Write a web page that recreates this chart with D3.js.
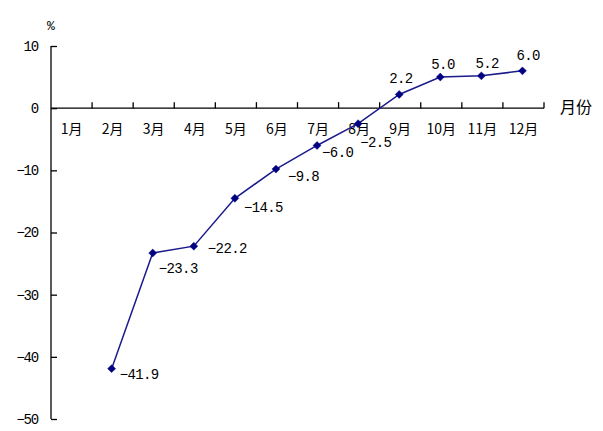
<!DOCTYPE html>
<html><head><meta charset="utf-8">
<script src="https://cdn.jsdelivr.net/npm/d3@7"></script>
<style>body{margin:0;background:#fff}svg{display:block}</style>
</head><body>
<svg id="c" width="603" height="431"></svg>
<script>
const months = ["1月","2月","3月","4月","5月","6月","7月","8月","9月","10月","11月","12月"];
const pointMonths = ["2月","3月","4月","5月","6月","7月","8月","9月","10月","11月","12月"];
const values = [-41.9,-23.3,-22.2,-14.5,-9.8,-6.0,-2.5,2.2,5.0,5.2,6.0];
const yTicks = [10,0,-10,-20,-30,-40,-50];
const yUnit = "%";
const xUnit = "月份";
// label placement offsets (layout, not data)
const labelDx = [8,6,14,9,12,5,2,-10,-9,-6,-6];
const labelDy = [5,15,2,9,7,7,18,-16,-13,-13,-16];

const svg = d3.select("#c");
const x = d3.scaleBand().domain(months).range([51,544]);
const y = d3.scaleLinear().domain([-50,10]).range([419,46]);
const numFont = "'Liberation Mono','Noto Sans CJK SC',monospace";
const cjkFont = "'Noto Sans CJK SC','Liberation Mono',sans-serif";

// Y axis
const yAxis = d3.axisLeft(y).tickValues(yTicks).tickSize(-6).tickPadding(13).tickFormat(d3.format("d"));
const gy = svg.append("g").attr("transform","translate(51,0)").call(yAxis);
gy.select(".domain").attr("stroke","#000").attr("d","M0,"+y(10)+"V"+y(-50)).attr("stroke-width",1.3);
gy.selectAll(".tick line").attr("stroke","#000").attr("stroke-width",1.3);
gy.selectAll(".tick text").attr("font-family",numFont).attr("font-size",14).attr("letter-spacing",-1.2).attr("fill","#000");

// X axis at y=0
const y0 = y(0);
svg.append("line").attr("x1",51).attr("x2",x.range()[1]).attr("y1",y0).attr("y2",y0).attr("stroke","#000").attr("stroke-width",1.3);
const bounds = months.slice(1).map(m=>x(m)).concat([x.range()[1]]);
svg.selectAll(".xt").data(bounds).enter().append("line")
  .attr("x1",d=>d).attr("x2",d=>d)
  .attr("y1",y0).attr("y2",y0-6).attr("stroke","#000").attr("stroke-width",1.3);
svg.selectAll(".xl").data(months).enter().append("text")
  .attr("x",d=>x(d)+x.bandwidth()/2).attr("y",y0+26)
  .attr("text-anchor","middle").attr("font-family",cjkFont).attr("font-size",14).attr("fill","#000")
  .text(d=>d);

svg.append("text").attr("x",560).attr("y",y0+5).attr("font-family",cjkFont).attr("font-size",16).attr("fill","#000").text(xUnit);
svg.append("text").attr("x",47).attr("y",30).attr("font-family",numFont).attr("font-size",13).attr("fill","#000").text(yUnit);

// line
const cx = d=>x(d.m)+x.bandwidth()/2 - 1;
const pts = pointMonths.map((m,i)=>({m, v:values[i], i}));
const line = d3.line().x(cx).y(d=>y(d.v));
svg.append("path").datum(pts).attr("d",line).attr("fill","none").attr("stroke","#1a1a8c").attr("stroke-width",1.5);
svg.selectAll(".mk").data(pts).enter().append("path")
  .attr("d",d3.symbol(d3.symbolDiamond2 || d3.symbolDiamond, 40))
  .attr("transform",d=>`translate(${cx(d)},${y(d.v)})`)
  .attr("fill","#000080").attr("stroke","#000080").attr("stroke-width",0.5);
svg.selectAll(".lb").data(pts).enter().append("text")
  .attr("x",d=>cx(d)+labelDx[d.i])
  .attr("y",d=>y(d.v)+labelDy[d.i]+5)
  .attr("font-family",numFont).attr("font-size",14).attr("letter-spacing",-0.6).attr("fill","#000")
  .text(d=>d3.format(".1f")(d.v));
</script>
</body></html>
